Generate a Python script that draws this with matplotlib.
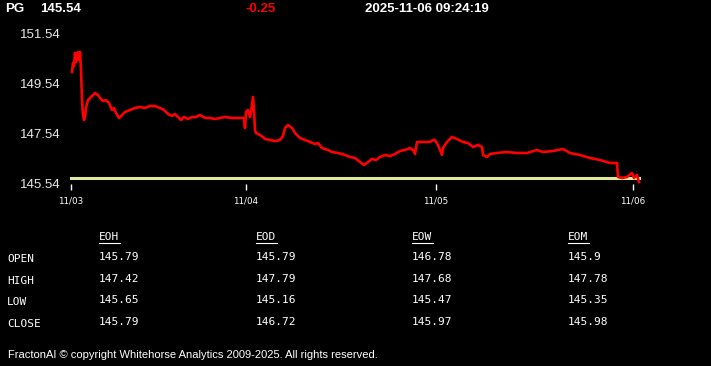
import matplotlib.pyplot as plt
from matplotlib.lines import Line2D

# header
symbol = "PG"
last_price = "145.54"
change = "-0.25"
stamp = "2025-11-06 09:24:19"

# intraday series (x = bar index, 11/03 open at 0)
bar_idx = [1, 2, 3, 4, 5, 6, 7, 8, 9, 10, 11, 12, 13, 14, 15, 17, 20, 24, 27, 29,
           32, 35, 38, 41, 43, 45, 48, 51, 54, 59, 64, 69, 74, 79, 84, 89, 93, 97, 101, 104,
           107, 110, 113, 117, 121, 125, 129, 134, 139, 144, 149, 154, 161, 169, 173, 174, 175, 177, 179, 180,
           182, 183, 184, 185, 189, 192, 194, 199, 204, 209, 212, 214, 217, 221, 224, 229, 234, 239, 244, 247,
           251, 257, 261, 267, 274, 279, 284, 289, 293, 297, 301, 305, 309, 314, 319, 324, 329, 334, 339, 342,
           344, 346, 349, 354, 359, 362, 364, 367, 371, 372, 376, 381, 386, 392, 397, 402, 407, 411, 412, 416,
           419, 426, 436, 446, 456, 466, 472, 482, 492, 499, 509, 519, 529, 539, 546, 547, 551, 556, 561, 563,
           566, 568]
price = [150.02, 150.38, 150.26, 150.78, 150.42, 150.70, 150.82, 150.50, 150.82, 150.10, 148.90, 148.30, 148.10, 148.22, 148.58, 148.90, 149.02, 149.18, 149.10, 148.98,
         148.86, 148.90, 148.78, 148.50, 148.58, 148.38, 148.18, 148.30, 148.42, 148.50, 148.58, 148.62, 148.58, 148.66, 148.66, 148.58, 148.50, 148.34, 148.26, 148.34,
         148.22, 148.10, 148.22, 148.14, 148.22, 148.22, 148.30, 148.18, 148.18, 148.14, 148.18, 148.22, 148.18, 148.18, 148.18, 147.78, 148.42, 148.50, 148.22, 148.42,
         149.02, 148.50, 147.70, 147.58, 147.50, 147.42, 147.34, 147.30, 147.26, 147.30, 147.46, 147.78, 147.90, 147.78, 147.58, 147.38, 147.30, 147.22, 147.14, 147.18,
         146.98, 146.90, 146.82, 146.78, 146.70, 146.62, 146.58, 146.42, 146.30, 146.42, 146.54, 146.50, 146.62, 146.70, 146.66, 146.74, 146.86, 146.90, 146.98, 146.90,
         146.74, 147.22, 147.22, 147.22, 147.22, 147.30, 147.30, 147.10, 146.70, 146.98, 147.22, 147.42, 147.34, 147.22, 147.18, 147.02, 147.10, 147.02, 146.70, 146.62,
         146.74, 146.78, 146.82, 146.78, 146.78, 146.90, 146.82, 146.86, 146.94, 146.78, 146.70, 146.58, 146.50, 146.38, 146.38, 145.82, 145.78, 145.82, 145.98, 145.78,
         145.90, 145.62]
prev_close = 145.79

tick_pos = [0, 175, 365, 562]
tick_lab = ["11/03", "11/04", "11/05", "11/06"]
y_ticks = [145.54, 147.54, 149.54, 151.54]

# summary table
periods = ["EOH", "EOD", "EOW", "EOM"]
rows = ["OPEN", "HIGH", "LOW", "CLOSE"]
open_vals = ["145.79", "145.79", "146.78", "145.9"]
high_vals = ["147.42", "147.79", "147.68", "147.78"]
low_vals = ["145.65", "145.16", "145.47", "145.35"]
close_vals = ["145.79", "146.72", "145.97", "145.98"]

W, H = 711, 366
fig = plt.figure(figsize=(W / 100, H / 100), dpi=100, facecolor='black')

# axes pixel box: left 65, right 645, top 34, bottom 184
ax = fig.add_axes([65 / W, 1 - 184 / H, 580 / W, 150 / H], facecolor='black')
ax.plot(bar_idx, price, color='#ff0000', lw=1.9, zorder=3)
ax.plot([bar_idx[0] - 1, bar_idx[-1]], [prev_close, prev_close], color='#dfe89a', lw=2.2, zorder=2)
ax.set_xlim(-6, 574)
ax.set_ylim(145.54, 151.54)
ax.set_xticks(tick_pos)
ax.set_xticklabels(tick_lab, fontsize=6.3, color='white')
ax.set_yticks(y_ticks)
ax.set_yticklabels([f"{v:.2f}" for v in y_ticks], fontsize=9.5, color='#e8e8e8', family='Liberation Sans')
ax.tick_params(axis='x', colors='white', length=4, width=1, pad=5, labelcolor='white')
ax.tick_params(axis='y', length=0, pad=3)
for s in ax.spines.values():
    s.set_visible(False)

# header line
hfont = dict(family='Liberation Sans', fontweight='bold', fontsize=9.5, va='center')
fig.text(5 / W, 1 - 9 / H, symbol, color='white', **hfont)
fig.text(40 / W, 1 - 9 / H, last_price, color='white', **hfont)
fig.text(245 / W, 1 - 9 / H, change, color='#ff0000', **hfont)
fig.text(365 / W, 1 - 9 / H, stamp, color='white', **hfont)

# table
mono = dict(family='DejaVu Sans Mono', fontsize=8, color='white', va='center')
col_x = [99, 256, 412, 568]
for cx, p in zip(col_x, periods):
    fig.text(cx / W, 1 - 237 / H, p, **mono)
    fig.add_artist(Line2D([cx / W, (cx + 21) / W], [1 - 243 / H, 1 - 243 / H],
                          color='white', lw=0.8, transform=fig.transFigure))
row_y = [259, 281, 302, 324]
for ry, name, vals in zip(row_y, rows, [open_vals, high_vals, low_vals, close_vals]):
    fig.text(7 / W, 1 - ry / H, name, **mono)
    for cx, v in zip(col_x, vals):
        fig.text(cx / W, 1 - (ry - 2) / H, v, **mono)

fig.text(8 / W, 1 - 355 / H, "FractonAI \u00a9 copyright Whitehorse Analytics 2009-2025. All rights reserved.",
         color='white', fontsize=8, family='Liberation Sans', va='center')

fig.savefig('out.png', dpi=100, facecolor='black')
